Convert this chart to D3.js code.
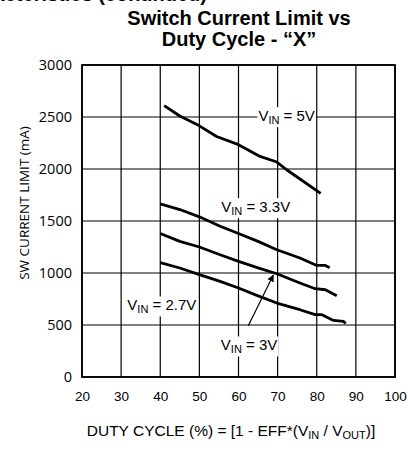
<!DOCTYPE html>
<html>
<head>
<meta charset="utf-8">
<script src="https://cdn.jsdelivr.net/npm/d3@7"></script>
<style>
  body { margin: 0; background: #fff; }
  svg { display: block; }
  .curve-label { font-family: 'Liberation Sans', Arial, sans-serif; font-size: 15px; fill: #000; }
</style>
</head>
<body>
<div id="chart"></div>
<script>
// duty cycle (%) vs switch current limit (mA)
var xTicks = [20, 30, 40, 50, 60, 70, 80, 90, 100];
var yTicks = [0, 500, 1000, 1500, 2000, 2500, 3000];

var vin5 = [[41, 2610], [45, 2510], [50, 2415], [54.4, 2313], [60, 2234], [65.5, 2121], [69.8, 2067], [72.3, 1993], [81, 1765]];
var vin33 = [[40, 1665], [45, 1610], [50, 1540], [55.3, 1450], [60, 1380], [65, 1304], [69.8, 1224], [75.7, 1144], [80, 1073], [82.2, 1073], [83.3, 1050]];
var vin3 = [[40, 1380], [45, 1304], [50, 1250], [55.3, 1176], [60, 1112], [65, 1050], [69.8, 993], [75.7, 904], [79.6, 849], [82.2, 839], [85.1, 782]];
var vin27 = [[40, 1100], [45, 1048], [50, 984], [55.3, 919], [60, 856], [65, 780], [69.8, 711], [75.7, 647], [79.6, 599], [81.3, 599], [84.3, 544], [86.8, 535], [87.4, 515]];

var labelNames = ['5V', '3.3V', '2.7V', '3V'];
var labelAt = [[72.3, 2460], [64.4, 1585], [40.4, 640], [62.7, 255]];
var arrowFrom = [62.5, 493];
var arrowTo = [68.9, 980];

var W = 408, H = 450;
var margin = { top: 65, right: 13, bottom: 73, left: 82 };

var svg = d3.select('#chart')
    .append('svg')
    .attr('width', W)
    .attr('height', H);

var defs = svg.append('defs');
defs.append('marker')
    .attr('id', 'arrowhead')
    .attr('viewBox', '0 0 10 10')
    .attr('refX', 9)
    .attr('refY', 5)
    .attr('markerWidth', 7)
    .attr('markerHeight', 7)
    .attr('markerUnits', 'userSpaceOnUse')
    .attr('orient', 'auto')
    .append('path')
    .attr('d', 'M0,0 L10,5 L0,10 z')
    .attr('fill', '#000');

// heading from the page above, cut off by the top edge
svg.append('text')
    .attr('x', 207)
    .attr('y', 1)
    .attr('text-anchor', 'end')
    .style('font-family', 'Liberation Sans, Arial, sans-serif')
    .style('font-weight', 'bold')
    .style('font-size', '20px')
    .text('Characteristics (continued)');

var title = svg.append('text')
    .attr('text-anchor', 'middle')
    .style('font-family', 'Liberation Sans, Arial, sans-serif')
    .style('font-weight', 'bold')
    .style('font-size', '20px');
title.append('tspan').attr('x', 239).attr('y', 25).text('Switch Current Limit vs');
title.append('tspan').attr('x', 239).attr('y', 46).text('Duty Cycle - \u201CX\u201D');

var x = d3.scaleLinear()
    .domain([20, 100])
    .range([margin.left, W - margin.right]);

var y = d3.scaleLinear()
    .domain([0, 3000])
    .range([H - margin.bottom, margin.top]);

var g = svg.append('g');

// grid
g.selectAll('.vgrid')
    .data(xTicks)
    .enter()
    .append('line')
    .attr('x1', function(d) { return x(d); })
    .attr('x2', function(d) { return x(d); })
    .attr('y1', y(0))
    .attr('y2', y(3000))
    .attr('stroke', '#000')
    .attr('stroke-width', 1.2);

g.selectAll('.hgrid')
    .data(yTicks)
    .enter()
    .append('line')
    .attr('x1', x(20))
    .attr('x2', x(100))
    .attr('y1', function(d) { return y(d); })
    .attr('y2', function(d) { return y(d); })
    .attr('stroke', '#000')
    .attr('stroke-width', 1.2);

g.append('rect')
    .attr('x', x(20))
    .attr('y', y(3000))
    .attr('width', x(100) - x(20))
    .attr('height', y(0) - y(3000))
    .attr('fill', 'none')
    .attr('stroke', '#000')
    .attr('stroke-width', 1.8);

// axes: labels only
var xAxis = d3.axisBottom(x).tickValues(xTicks).tickFormat(d3.format('d')).tickSize(0).tickPadding(14);
var yAxis = d3.axisLeft(y).tickValues(yTicks).tickFormat(d3.format('d')).tickSize(0).tickPadding(10);

svg.append('g')
    .attr('transform', 'translate(0,' + y(0) + ')')
    .call(xAxis)
    .call(function(s) { s.select('.domain').remove(); })
    .selectAll('text')
    .attr('fill', '#000')
    .style('font-family', 'Liberation Sans, Arial, sans-serif')
    .style('font-size', '13.5px');

svg.append('g')
    .attr('transform', 'translate(' + x(20) + ',0)')
    .call(yAxis)
    .call(function(s) { s.select('.domain').remove(); })
    .selectAll('text')
    .attr('fill', '#000')
    .style('font-family', 'Open Sans, sans-serif')
    .style('font-size', '14.5px');

// curves
var line = d3.line()
    .x(function(d) { return x(d[0]); })
    .y(function(d) { return y(d[1]); });

[vin5, vin33, vin3, vin27].forEach(function(series) {
    svg.append('path')
        .datum(series)
        .attr('d', line)
        .attr('fill', 'none')
        .attr('stroke', '#000')
        .attr('stroke-width', 2.8)
        .attr('stroke-linejoin', 'round');
});

// arrow for 3V
svg.append('line')
    .attr('x1', x(arrowFrom[0]))
    .attr('y1', y(arrowFrom[1]))
    .attr('x2', x(arrowTo[0]))
    .attr('y2', y(arrowTo[1]))
    .attr('stroke', '#000')
    .attr('stroke-width', 1.2)
    .attr('marker-end', 'url(#arrowhead)');

// curve labels with white boxes
labelNames.forEach(function(name, i) {
    var lg = svg.append('g');
    var t = lg.append('text')
        .attr('class', 'curve-label')
        .attr('x', x(labelAt[i][0]))
        .attr('y', y(labelAt[i][1]))
        .attr('text-anchor', 'middle');
    t.append('tspan').text('V');
    t.append('tspan').attr('dy', 3).style('font-size', '11px').text('IN');
    t.append('tspan').attr('dy', -3).text(' = ' + name);
    var bb = t.node().getBBox();
    lg.insert('rect', 'text')
        .attr('x', bb.x - 1)
        .attr('y', bb.y)
        .attr('width', bb.width + 2)
        .attr('height', bb.height + 1)
        .attr('fill', '#fff');
});

// axis titles
svg.append('text')
    .attr('transform', 'translate(29,' + ((y(0) + y(3000)) / 2 - 18) + ') rotate(-90)')
    .attr('text-anchor', 'middle')
    .style('font-family', 'Open Sans, sans-serif')
    .style('font-size', '13.5px')
    .text('SW CURRENT LIMIT (mA)');

var xl = svg.append('text')
    .attr('x', 231)
    .attr('y', 436)
    .attr('text-anchor', 'middle')
    .style('font-family', 'Liberation Sans, Arial, sans-serif')
    .style('font-size', '15.5px');
xl.append('tspan').text('DUTY CYCLE (%) = [1 - EFF*(V');
xl.append('tspan').attr('dy', 3).style('font-size', '11px').text('IN');
xl.append('tspan').attr('dy', -3).text(' / V');
xl.append('tspan').attr('dy', 3).style('font-size', '11px').text('OUT');
xl.append('tspan').attr('dy', -3).text(')]');
</script>
</body>
</html>
